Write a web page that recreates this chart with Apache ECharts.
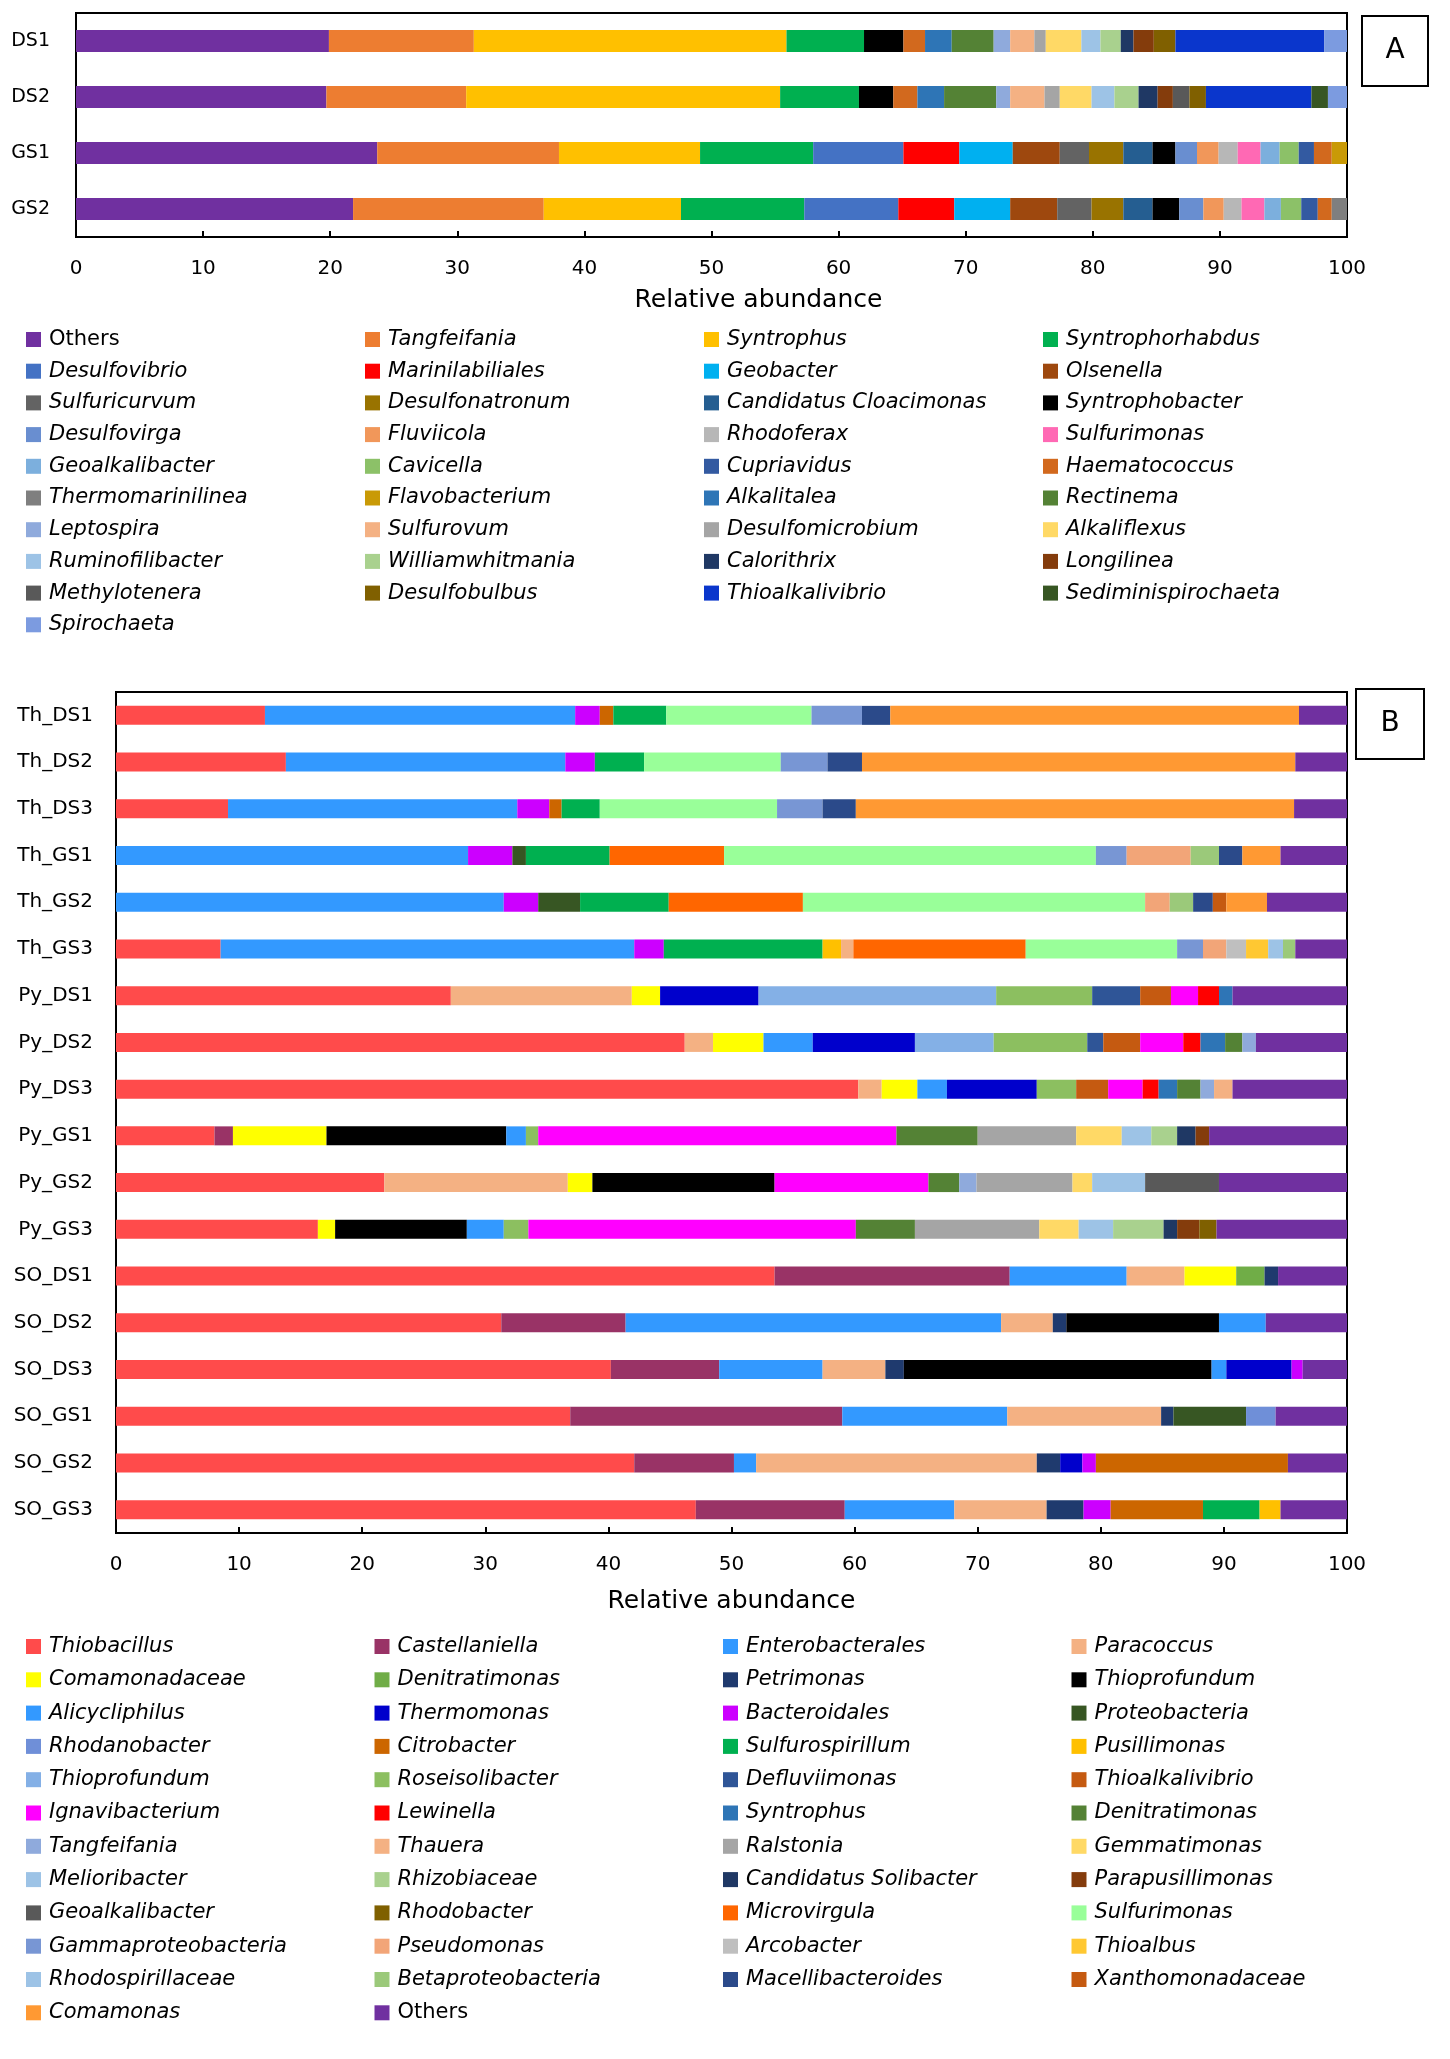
<!DOCTYPE html>
<html>
<head>
<meta charset="utf-8">
<script src="https://cdn.jsdelivr.net/npm/echarts@6/dist/echarts.min.js"></script>
<style>
  html, body { margin: 0; padding: 0; background: #fff; }
  #chart { width: 1450px; height: 2059px; }
</style>
</head>
<body>
<div id="chart"></div>
<script>
// ---------- panel A : samples DS1, DS2, GS1, GS2 ----------
var samplesA = ['DS1', 'DS2', 'GS1', 'GS2'];

var A_Others              = [19.9, 19.7, 23.7, 21.8];
var A_Tangfeifania        = [11.4, 11.0, 14.3, 15.0];
var A_Syntrophus          = [24.6, 24.7, 11.1, 10.8];
var A_Syntrophorhabdus    = [6.1, 6.2, 8.9, 9.7];
var A_Desulfovibrio       = [0, 0, 7.1, 7.4];
var A_Marinilabiliales    = [0, 0, 4.4, 4.4];
var A_Geobacter           = [0, 0, 4.2, 4.4];
var A_Olsenella           = [0, 0, 3.7, 3.7];
var A_Sulfuricurvum       = [0, 0, 2.3, 2.7];
var A_Desulfonatronum     = [0, 0, 2.7, 2.5];
var A_CandCloacimonas     = [0, 0, 2.3, 2.3];
var A_Syntrophobacter     = [3.1, 2.7, 1.8, 2.1];
var A_Desulfovirga        = [0, 0, 1.7, 1.9];
var A_Fluviicola          = [0, 0, 1.7, 1.6];
var A_Rhodoferax          = [0, 0, 1.5, 1.4];
var A_Sulfurimonas        = [0, 0, 1.8, 1.8];
var A_Geoalkalibacter     = [0, 0, 1.5, 1.3];
var A_Cavicella           = [0, 0, 1.5, 1.6];
var A_Cupriavidus         = [0, 0, 1.2, 1.3];
var A_Haematococcus       = [1.7, 1.9, 1.4, 1.1];
var A_Thermomarinilinea   = [0, 0, 0, 1.2];
var A_Flavobacterium      = [0, 0, 1.2, 0];
var A_Alkalitalea         = [2.1, 2.1, 0, 0];
var A_Rectinema           = [3.3, 4.1, 0, 0];
var A_Leptospira          = [1.3, 1.1, 0, 0];
var A_Sulfurovum          = [1.9, 2.7, 0, 0];
var A_Desulfomicrobium    = [0.9, 1.2, 0, 0];
var A_Alkaliflexus        = [2.8, 2.5, 0, 0];
var A_Ruminofilibacter    = [1.5, 1.8, 0, 0];
var A_Williamwhitmania    = [1.6, 1.9, 0, 0];
var A_Calorithrix         = [1.0, 1.5, 0, 0];
var A_Longilinea          = [1.6, 1.2, 0, 0];
var A_Methylotenera       = [0, 1.3, 0, 0];
var A_Desulfobulbus       = [1.7, 1.3, 0, 0];
var A_Thioalkalivibrio    = [11.7, 8.3, 0, 0];
var A_Sediminispirochaeta = [0, 1.3, 0, 0];
var A_Spirochaeta         = [1.8, 1.5, 0, 0];

var taxaA = ['Others', 'Tangfeifania', 'Syntrophus', 'Syntrophorhabdus',
  'Desulfovibrio', 'Marinilabiliales', 'Geobacter', 'Olsenella',
  'Sulfuricurvum', 'Desulfonatronum', 'Candidatus Cloacimonas', 'Syntrophobacter',
  'Desulfovirga', 'Fluviicola', 'Rhodoferax', 'Sulfurimonas',
  'Geoalkalibacter', 'Cavicella', 'Cupriavidus', 'Haematococcus',
  'Thermomarinilinea', 'Flavobacterium', 'Alkalitalea', 'Rectinema',
  'Leptospira', 'Sulfurovum', 'Desulfomicrobium', 'Alkaliflexus',
  'Ruminofilibacter', 'Williamwhitmania', 'Calorithrix', 'Longilinea',
  'Methylotenera', 'Desulfobulbus', 'Thioalkalivibrio', 'Sediminispirochaeta',
  'Spirochaeta'];

var valuesA = [A_Others, A_Tangfeifania, A_Syntrophus, A_Syntrophorhabdus,
  A_Desulfovibrio, A_Marinilabiliales, A_Geobacter, A_Olsenella,
  A_Sulfuricurvum, A_Desulfonatronum, A_CandCloacimonas, A_Syntrophobacter,
  A_Desulfovirga, A_Fluviicola, A_Rhodoferax, A_Sulfurimonas,
  A_Geoalkalibacter, A_Cavicella, A_Cupriavidus, A_Haematococcus,
  A_Thermomarinilinea, A_Flavobacterium, A_Alkalitalea, A_Rectinema,
  A_Leptospira, A_Sulfurovum, A_Desulfomicrobium, A_Alkaliflexus,
  A_Ruminofilibacter, A_Williamwhitmania, A_Calorithrix, A_Longilinea,
  A_Methylotenera, A_Desulfobulbus, A_Thioalkalivibrio, A_Sediminispirochaeta,
  A_Spirochaeta];

var colorsA = ['#7030A0', '#ED7D31', '#FFC000', '#00B050',
  '#4472C4', '#FF0000', '#00B0F0', '#9E480E',
  '#636363', '#997300', '#255E91', '#000000',
  '#698ED0', '#F1975A', '#B7B7B7', '#FF69B4',
  '#7CAFDD', '#8CC168', '#335AA1', '#D2691E',
  '#7F7F7F', '#C99A06', '#2E75B6', '#548235',
  '#8FAADC', '#F4B183', '#A5A5A5', '#FFD966',
  '#9DC3E6', '#A9D18E', '#1F3864', '#843C0C',
  '#595959', '#806000', '#0A36CC', '#375623',
  '#7C9BE0'];

// ---------- panel B : 18 samples ----------
var samplesB = ['Th_DS1', 'Th_DS2', 'Th_DS3', 'Th_GS1', 'Th_GS2', 'Th_GS3',
  'Py_DS1', 'Py_DS2', 'Py_DS3', 'Py_GS1', 'Py_GS2', 'Py_GS3',
  'SO_DS1', 'SO_DS2', 'SO_DS3', 'SO_GS1', 'SO_GS2', 'SO_GS3'];

//                         Th_DS1 DS2  DS3  GS1  GS2  GS3 | Py_DS1 DS2 DS3  GS1  GS2  GS3 | SO_DS1 DS2 DS3 GS1  GS2  GS3
var B_Thiobacillus        = [12.1, 13.8, 9.1, 0, 0, 8.5, 27.2, 46.2, 60.3, 8.0, 21.8, 16.4, 53.5, 31.3, 40.2, 36.9, 42.1, 47.1];
var B_Castellaniella      = [0, 0, 0, 0, 0, 0, 0, 0, 0, 1.5, 0, 0, 19.1, 10.1, 8.8, 22.1, 8.1, 12.1];
var B_Enterobacterales    = [0, 0, 0, 0, 0, 0, 0, 0, 0, 0, 0, 0, 9.5, 30.5, 8.4, 13.4, 1.8, 8.9];
var B_Paracoccus          = [0, 0, 0, 0, 0, 0, 14.7, 2.3, 1.9, 0, 14.9, 0, 4.7, 4.2, 5.1, 12.5, 22.8, 7.5];
var B_Comamonadaceae      = [0, 0, 0, 0, 0, 0, 2.3, 4.1, 2.9, 7.6, 2.0, 1.4, 4.2, 0, 0, 0, 0, 0];
var B_Denitratimonas      = [0, 0, 0, 0, 0, 0, 0, 0, 0, 0, 0, 0, 2.3, 0, 0, 0, 0, 0];
var B_Petrimonas          = [0, 0, 0, 0, 0, 0, 0, 0, 0, 0, 0, 0, 1.1, 1.1, 1.5, 1.0, 1.9, 3.0];
var B_Thioprofundum       = [0, 0, 0, 0, 0, 0, 0, 0, 0, 14.6, 14.8, 10.7, 0, 12.4, 25.0, 0, 0, 0];
var B_Alicycliphilus      = [25.2, 22.7, 23.5, 28.6, 31.5, 33.6, 0, 4.0, 2.4, 1.6, 0, 3.0, 0, 3.8, 1.2, 0, 0, 0];
var B_Thermomonas         = [0, 0, 0, 0, 0, 0, 8.0, 8.3, 7.3, 0, 0, 0, 0, 0, 5.3, 0, 1.8, 0];
var B_Bacteroidales       = [2.0, 2.4, 2.6, 3.6, 2.8, 2.4, 0, 0, 0, 0, 0, 0, 0, 0, 0.9, 0, 1.1, 2.2];
var B_Proteobacteria      = [0, 0, 0, 1.1, 3.4, 0, 0, 0, 0, 0, 0, 0, 0, 0, 0, 5.9, 0, 0];
var B_Rhodanobacter       = [0, 0, 0, 0, 0, 0, 0, 0, 0, 0, 0, 0, 0, 0, 0, 2.4, 0, 0];
var B_Citrobacter         = [1.1, 0, 1.0, 0, 0, 0, 0, 0, 0, 0, 0, 0, 0, 0, 0, 0, 15.6, 7.5];
var B_Sulfurospirillum    = [4.3, 4.0, 3.1, 6.8, 7.2, 12.9, 0, 0, 0, 0, 0, 0, 0, 0, 0, 0, 0, 4.6];
var B_Pusillimonas        = [0, 0, 0, 0, 0, 1.5, 0, 0, 0, 0, 0, 0, 0, 0, 0, 0, 0, 1.7];
var B_Thioprofundum2      = [0, 0, 0, 0, 0, 0, 19.3, 6.4, 0, 0, 0, 0, 0, 0, 0, 0, 0, 0];
var B_Roseisolibacter     = [0, 0, 0, 0, 0, 0, 7.8, 7.6, 3.2, 1.0, 0, 2.0, 0, 0, 0, 0, 0, 0];
var B_Defluviimonas       = [0, 0, 0, 0, 0, 0, 3.9, 1.3, 0, 0, 0, 0, 0, 0, 0, 0, 0, 0];
var B_Thioalkalivibrio    = [0, 0, 0, 0, 0, 0, 2.5, 3.0, 2.6, 0, 0, 0, 0, 0, 0, 0, 0, 0];
var B_Ignavibacterium     = [0, 0, 0, 0, 0, 0, 2.2, 3.5, 2.8, 29.1, 12.5, 26.6, 0, 0, 0, 0, 0, 0];
var B_Lewinella           = [0, 0, 0, 0, 0, 0, 1.7, 1.4, 1.3, 0, 0, 0, 0, 0, 0, 0, 0, 0];
var B_Syntrophus          = [0, 0, 0, 0, 0, 0, 1.1, 2.0, 1.5, 0, 0, 0, 0, 0, 0, 0, 0, 0];
var B_Denitratimonas2     = [0, 0, 0, 0, 0, 0, 0, 1.4, 1.9, 6.6, 2.5, 4.8, 0, 0, 0, 0, 0, 0];
var B_Tangfeifania        = [0, 0, 0, 0, 0, 0, 0, 1.1, 1.1, 0, 1.4, 0, 0, 0, 0, 0, 0, 0];
var B_Thauera             = [0, 0, 0, 0, 0, 1.0, 0, 0, 1.5, 0, 0, 0, 0, 0, 0, 0, 0, 0];
var B_Ralstonia           = [0, 0, 0, 0, 0, 0, 0, 0, 0, 8.0, 7.8, 10.1, 0, 0, 0, 0, 0, 0];
var B_Gemmatimonas        = [0, 0, 0, 0, 0, 0, 0, 0, 0, 3.7, 1.6, 3.2, 0, 0, 0, 0, 0, 0];
var B_Melioribacter       = [0, 0, 0, 0, 0, 0, 0, 0, 0, 2.4, 4.3, 2.8, 0, 0, 0, 0, 0, 0];
var B_Rhizobiaceae        = [0, 0, 0, 0, 0, 0, 0, 0, 0, 2.1, 0, 4.1, 0, 0, 0, 0, 0, 0];
var B_CandSolibacter      = [0, 0, 0, 0, 0, 0, 0, 0, 0, 1.5, 0, 1.1, 0, 0, 0, 0, 0, 0];
var B_Parapusillimonas    = [0, 0, 0, 0, 0, 0, 0, 0, 0, 1.1, 0, 1.8, 0, 0, 0, 0, 0, 0];
var B_Geoalkalibacter      = [0, 0, 0, 0, 0, 0, 0, 0, 0, 0, 6.0, 0, 0, 0, 0, 0, 0, 0];
var B_Rhodobacter         = [0, 0, 0, 0, 0, 0, 0, 0, 0, 0, 0, 1.4, 0, 0, 0, 0, 0, 0];
var B_Microvirgula        = [0, 0, 0, 9.3, 10.9, 14.0, 0, 0, 0, 0, 0, 0, 0, 0, 0, 0, 0, 0];
var B_Sulfurimonas        = [11.8, 11.1, 14.4, 30.2, 27.8, 12.3, 0, 0, 0, 0, 0, 0, 0, 0, 0, 0, 0, 0];
var B_Gammaproteobacteria = [4.1, 3.8, 3.7, 2.5, 0, 2.1, 0, 0, 0, 0, 0, 0, 0, 0, 0, 0, 0, 0];
var B_Pseudomonas         = [0, 0, 0, 5.2, 2.0, 1.9, 0, 0, 0, 0, 0, 0, 0, 0, 0, 0, 0, 0];
var B_Arcobacter          = [0, 0, 0, 0, 0, 1.6, 0, 0, 0, 0, 0, 0, 0, 0, 0, 0, 0, 0];
var B_Thioalbus           = [0, 0, 0, 0, 0, 1.8, 0, 0, 0, 0, 0, 0, 0, 0, 0, 0, 0, 0];
var B_Rhodospirillaceae   = [0, 0, 0, 0, 0, 1.2, 0, 0, 0, 0, 0, 0, 0, 0, 0, 0, 0, 0];
var B_Betaproteobacteria  = [0, 0, 0, 2.3, 1.9, 1.0, 0, 0, 0, 0, 0, 0, 0, 0, 0, 0, 0, 0];
var B_Macellibacteroides  = [2.3, 2.8, 2.7, 1.9, 1.6, 0, 0, 0, 0, 0, 0, 0, 0, 0, 0, 0, 0, 0];
var B_Xanthomonadaceae    = [0, 0, 0, 0, 1.1, 0, 0, 0, 0, 0, 0, 0, 0, 0, 0, 0, 0, 0];
var B_Comamonas           = [33.2, 35.2, 35.6, 3.1, 3.3, 0, 0, 0, 0, 0, 0, 0, 0, 0, 0, 0, 0, 0];
var B_Others              = [3.9, 4.2, 4.3, 5.4, 6.5, 4.2, 9.3, 7.4, 9.3, 11.2, 10.4, 10.6, 5.6, 6.6, 3.6, 5.8, 4.8, 5.4];

var taxaB = ['Thiobacillus', 'Castellaniella', 'Enterobacterales', 'Paracoccus',
  'Comamonadaceae', 'Denitratimonas', 'Petrimonas', 'Thioprofundum',
  'Alicycliphilus', 'Thermomonas', 'Bacteroidales', 'Proteobacteria',
  'Rhodanobacter', 'Citrobacter', 'Sulfurospirillum', 'Pusillimonas',
  'Thioprofundum', 'Roseisolibacter', 'Defluviimonas', 'Thioalkalivibrio',
  'Ignavibacterium', 'Lewinella', 'Syntrophus', 'Denitratimonas',
  'Tangfeifania', 'Thauera', 'Ralstonia', 'Gemmatimonas',
  'Melioribacter', 'Rhizobiaceae', 'Candidatus Solibacter', 'Parapusillimonas',
  'Geoalkalibacter', 'Rhodobacter', 'Microvirgula', 'Sulfurimonas',
  'Gammaproteobacteria', 'Pseudomonas', 'Arcobacter', 'Thioalbus',
  'Rhodospirillaceae', 'Betaproteobacteria', 'Macellibacteroides', 'Xanthomonadaceae',
  'Comamonas', 'Others'];

var valuesB = [B_Thiobacillus, B_Castellaniella, B_Enterobacterales, B_Paracoccus,
  B_Comamonadaceae, B_Denitratimonas, B_Petrimonas, B_Thioprofundum,
  B_Alicycliphilus, B_Thermomonas, B_Bacteroidales, B_Proteobacteria,
  B_Rhodanobacter, B_Citrobacter, B_Sulfurospirillum, B_Pusillimonas,
  B_Thioprofundum2, B_Roseisolibacter, B_Defluviimonas, B_Thioalkalivibrio,
  B_Ignavibacterium, B_Lewinella, B_Syntrophus, B_Denitratimonas2,
  B_Tangfeifania, B_Thauera, B_Ralstonia, B_Gemmatimonas,
  B_Melioribacter, B_Rhizobiaceae, B_CandSolibacter, B_Parapusillimonas,
  B_Geoalkalibacter, B_Rhodobacter, B_Microvirgula, B_Sulfurimonas,
  B_Gammaproteobacteria, B_Pseudomonas, B_Arcobacter, B_Thioalbus,
  B_Rhodospirillaceae, B_Betaproteobacteria, B_Macellibacteroides, B_Xanthomonadaceae,
  B_Comamonas, B_Others];

var colorsB = ['#FF4B4B', '#993366', '#3399FF', '#F4B183',
  '#FFFF00', '#70AD47', '#1F3A6E', '#000000',
  '#3399FF', '#0000CC', '#CC00FF', '#375623',
  '#6F8FD8', '#CC6600', '#00B050', '#FFC000',
  '#84B0E6', '#8CBF60', '#2F5597', '#C55A11',
  '#FF00FF', '#FF0000', '#2E75B6', '#548235',
  '#8FAADC', '#F4B183', '#A5A5A5', '#FFD966',
  '#9DC3E6', '#A9D18E', '#1F3864', '#843C0C',
  '#595959', '#7F6000', '#FF6600', '#99FF99',
  '#7896D4', '#F2A578', '#BFBFBF', '#FFC832',
  '#9DC3E6', '#9BC97A', '#2B4A8A', '#C55A11',
  '#FF9933', '#7030A0'];

var FONT = 'DejaVu Sans';

// series names get a panel prefix so that the same genus in A and B keeps its own colour
function buildSeries(panel, taxa, values, colors, axisIndex, barWidth) {
  var seen = {};
  return taxa.map(function (t, i) {
    seen[t] = (seen[t] || 0) + 1;
    return {
      name: panel + '|' + t + '|' + seen[t],
      type: 'bar',
      stack: 'stack' + panel,
      xAxisIndex: axisIndex,
      yAxisIndex: axisIndex,
      barWidth: barWidth,
      itemStyle: { color: colors[i] },
      data: values[i]
    };
  });
}

function buildLegends(series, left0, colGap, top, itemGap) {
  var legends = [];
  for (var c = 0; c < 4; c++) {
    var items = [];
    series.forEach(function (s, i) {
      if (i % 4 !== c) return;
      var label = s.name.split('|')[1];
      var item = { name: s.name };
      if (label === 'Others') item.textStyle = { fontStyle: 'normal' };
      items.push(item);
    });
    legends.push({
      orient: 'vertical',
      left: left0 + c * colGap,
      top: top,
      padding: 0,
      itemWidth: 15,
      itemHeight: 15,
      itemGap: itemGap,
      icon: 'rect',
      selectedMode: false,
      data: items,
      formatter: function (n) { return n.split('|')[1]; },
      textStyle: { fontFamily: FONT, fontSize: 21, fontStyle: 'italic', color: '#000', lineHeight: 20, padding: [0, 0, 0, 3] }
    });
  }
  return legends;
}

var seriesA = buildSeries('A', taxaA, valuesA, colorsA, 0, 22);
var seriesB = buildSeries('B', taxaB, valuesB, colorsB, 1, 19);

function xAxisFor(gridIndex, nameGap, namePad) {
  return {
    type: 'value', gridIndex: gridIndex, min: 0, max: 100, interval: 10,
    axisLine: { show: false },
    axisTick: { show: true, inside: true, length: 6, lineStyle: { color: '#000', width: 2 } },
    axisLabel: { fontFamily: FONT, fontSize: 20, color: '#000', margin: 22 },
    splitLine: { show: false },
    name: 'Relative abundance', nameLocation: 'middle', nameGap: nameGap,
    nameTextStyle: { fontFamily: FONT, fontSize: 25, color: '#000', padding: namePad }
  };
}

function yAxisFor(gridIndex, cats, margin, size) {
  return {
    type: 'category', gridIndex: gridIndex, data: cats, inverse: true,
    axisLine: { show: false },
    axisTick: { show: false },
    axisLabel: { fontFamily: FONT, fontSize: size, color: '#000', margin: margin },
    splitLine: { show: false }
  };
}

var chart = echarts.init(document.getElementById('chart'), null, { renderer: 'canvas' });

chart.setOption({
  backgroundColor: '#fff',
  animation: false,
  grid: [
    { left: 76, top: 13, width: 1271, height: 224, show: true, borderColor: '#000', borderWidth: 2, outerBoundsMode: 'none' },
    { left: 116, top: 692, width: 1231, height: 841, show: true, borderColor: '#000', borderWidth: 2, outerBoundsMode: 'none' }
  ],
  xAxis: [xAxisFor(0, 51, [0, 0, 0, 94]), xAxisFor(1, 56, 0)],
  yAxis: [yAxisFor(0, samplesA, 26, 19), yAxisFor(1, samplesB, 23, 20)],
  legend: buildLegends(seriesA, 26, 339, 329, 10.7)
    .concat(buildLegends(seriesB, 26, 348.5, 1636, 12.3)),
  graphic: [
    { type: 'rect', shape: { x: 1362, y: 16, width: 66, height: 70 }, style: { fill: '#fff', stroke: '#000', lineWidth: 2 } },
    { type: 'text', x: 1395, y: 51, style: { text: 'A', font: '28px "DejaVu Sans"', fill: '#000', align: 'center', verticalAlign: 'middle' } },
    { type: 'rect', shape: { x: 1356, y: 689, width: 68, height: 70 }, style: { fill: '#fff', stroke: '#000', lineWidth: 2 } },
    { type: 'text', x: 1390, y: 724, style: { text: 'B', font: '28px "DejaVu Sans"', fill: '#000', align: 'center', verticalAlign: 'middle' } }
  ],
  series: seriesA.concat(seriesB)
});
</script>
</body>
</html>
